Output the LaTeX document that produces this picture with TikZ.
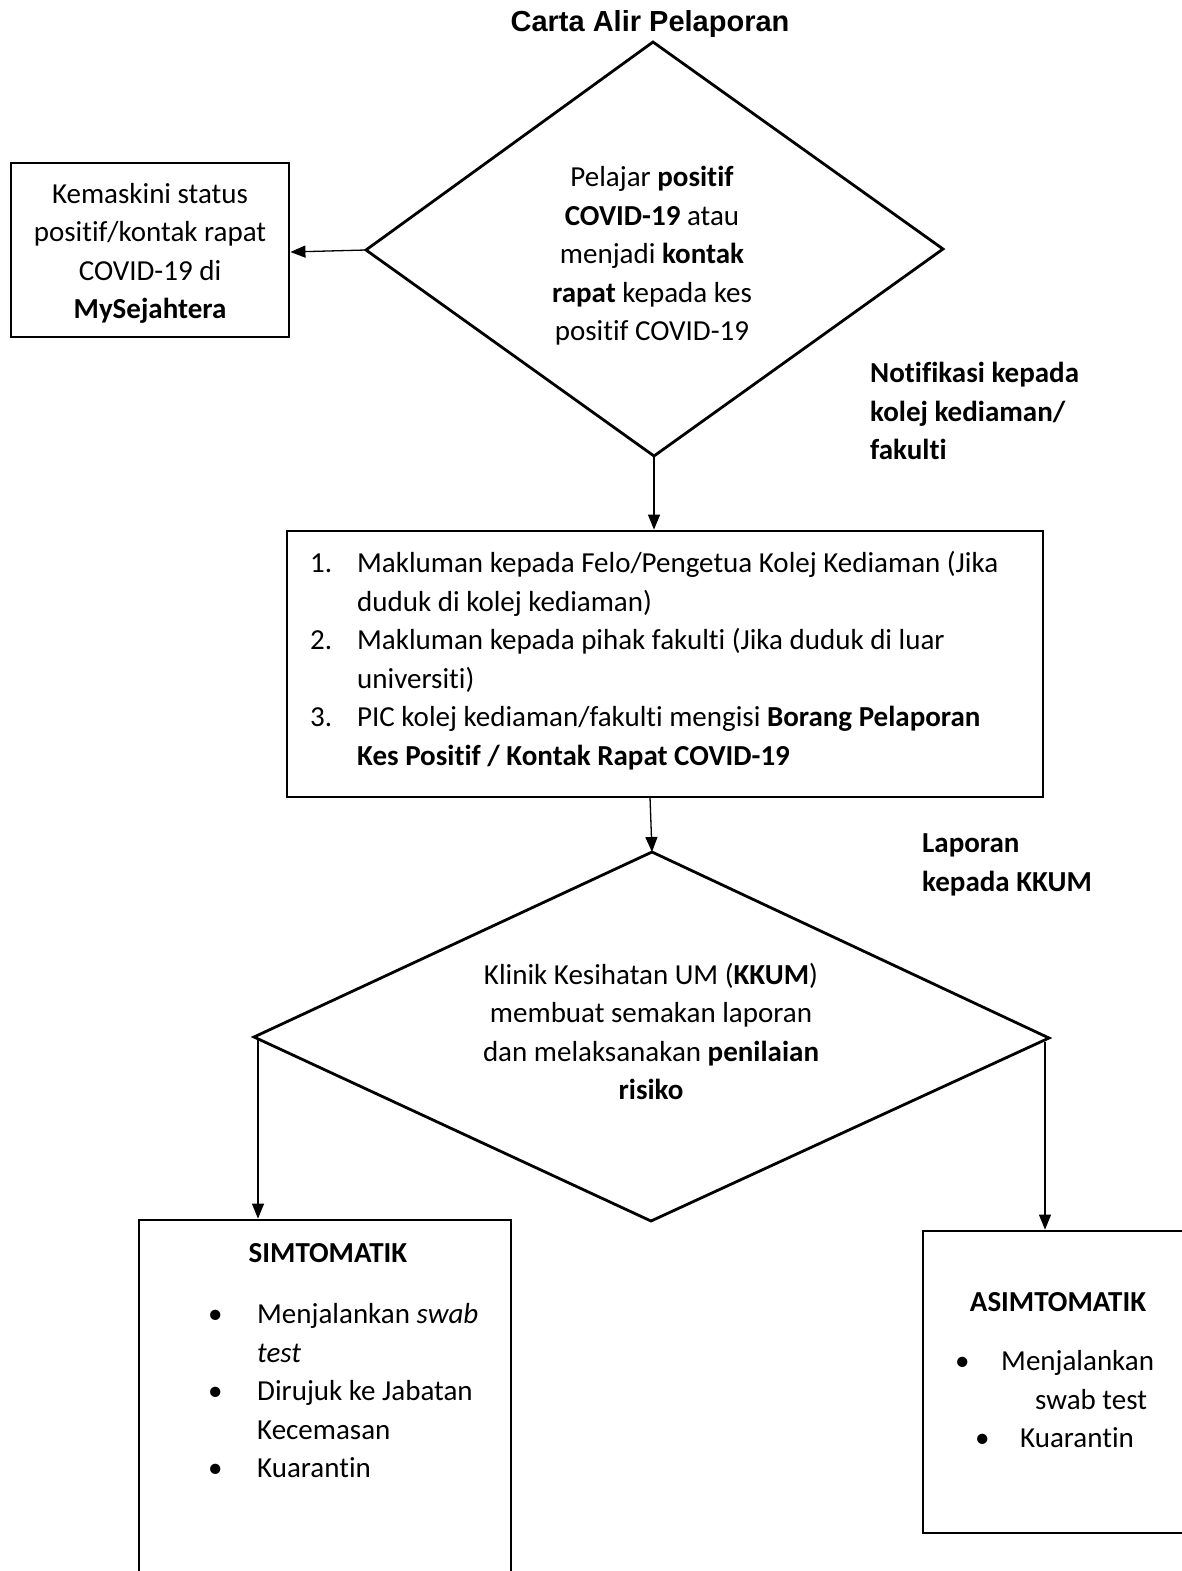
\documentclass[tikz,border=0pt]{standalone}
\usepackage{fontspec}
\setmainfont{Carlito}[Ligatures={NoCommon}]
\newfontfamily\titlefont{Liberation Sans}
\usetikzlibrary{arrows.meta}
\begin{document}
\begin{tikzpicture}[x=1pt,y=-1pt,
  shapeline/.style={line width=2.8pt, line join=miter},
  boxnode/.style={draw, shapeline, rectangle, inner sep=0pt},
  txt/.style={inner sep=0pt, font=\fontsize{29}{38.5}\selectfont},
  conn/.style={line width=1.3pt, -{Triangle[length=15pt,width=12pt]}}]
\useasboundingbox (0,0) rectangle (1182,1571);
\fill[white] (0,0) rectangle (1182,1571);

% title
\node[inner sep=0pt, anchor=base, font=\titlefont\bfseries\fontsize{29}{34}\selectfont] (title) at (650,32) {Carta Alir Pelaporan};

% diamond 1
\coordinate (d1t) at (653,42);
\coordinate (d1r) at (943,249);
\coordinate (d1b) at (654,456);
\coordinate (d1l) at (366,250);
\draw[shapeline] (d1t) -- (d1r) -- (d1b) -- (d1l) -- cycle;
\node[txt, align=center] (d1text) at (652,255.8) {\strut Pelajar \textbf{positif}\\ \strut\textbf{COVID-19} atau\\ \strut menjadi \textbf{kontak}\\ \strut\textbf{rapat} kepada kes\\ \strut positif COVID-19};

% left box
\node[boxnode, minimum width=278pt, minimum height=174pt] (lbox) at (150,250) {};
\node[txt, align=center] (ltext) at (150,253.3) {\strut Kemaskini status\\ \strut positif/kontak rapat\\ \strut COVID-19 di\\ \strut\textbf{MySejahtera}};

% notification label
\node[txt, align=left, anchor=west] (notif) at (870,413.3) {\strut\textbf{Notifikasi kepada}\\ \strut\textbf{kolej kediaman/}\\ \strut\textbf{fakulti}};

% box 2
\node[boxnode, minimum width=756pt, minimum height=266pt] (box2) at (665,664) {};
\node[txt, align=left, anchor=west] (box2text) at (310,661.3) {%
\strut\makebox[47pt][l]{1.}Makluman kepada Felo/Pengetua Kolej Kediaman (Jika\\
\strut\hspace*{47pt}duduk di kolej kediaman)\\
\strut\makebox[47pt][l]{2.}Makluman kepada pihak fakulti (Jika duduk di luar\\
\strut\hspace*{47pt}universiti)\\
\strut\makebox[47pt][l]{3.}PIC kolej kediaman/fakulti mengisi \textbf{Borang Pelaporan}\\
\strut\hspace*{47pt}\textbf{Kes Positif / Kontak Rapat COVID-19}};

% laporan label
\node[txt, align=left, anchor=west] (lapor) at (922,864.3) {\strut\textbf{Laporan}\\ \strut\textbf{kepada KKUM}};

% diamond 2
\coordinate (d2t) at (652,852);
\coordinate (d2r) at (1049,1038);
\coordinate (d2b) at (651,1221);
\coordinate (d2l) at (254,1037);
\draw[shapeline] (d2t) -- (d2r) -- (d2b) -- (d2l) -- cycle;
\node[txt, align=center] (d2text) at (651,1034.3) {\strut Klinik Kesihatan UM (\textbf{KKUM})\\ \strut membuat semakan laporan\\ \strut dan melaksanakan \textbf{penilaian}\\ \strut\textbf{risiko}};

% SIMTOMATIK box
\node[boxnode, minimum width=372pt, minimum height=380pt] (sim) at (325,1410) {};
\node[txt] (simhead) at (328,1254.3) {\strut\textbf{SIMTOMATIK}};
\node[txt, align=left, anchor=west] (simlist) at (208,1392.8) {%
\strut\makebox[49pt][l]{\textbullet}Menjalankan \textit{swab}\\
\strut\hspace*{49pt}\textit{test}\\
\strut\makebox[49pt][l]{\textbullet}Dirujuk ke Jabatan\\
\strut\hspace*{49pt}Kecemasan\\
\strut\makebox[49pt][l]{\textbullet}Kuarantin};

% ASIMTOMATIK box
\node[boxnode, minimum width=277pt, minimum height=302pt] (asim) at (1061.5,1382) {};
\node[txt] (asimhead) at (1058,1303.3) {\strut\textbf{ASIMTOMATIK}};
\node[txt, align=left, anchor=west] (asimlist) at (955,1401.3) {%
\strut\makebox[46pt][l]{\textbullet}Menjalankan\\
\strut\hspace*{80pt}swab test\\
\strut\hspace*{20pt}\makebox[45pt][l]{\textbullet}Kuarantin};

% connectors
\coordinate (a1e) at (lbox.east |- 0,252);
\draw[conn] (d1l) -- (a1e);
\draw[conn] (d1b) -- (d1b |- box2.north);
\coordinate (b2out) at (650,797);
\draw[conn] (b2out) -- (d2t);
\coordinate (d2ls) at (258,1038);
\draw[conn] (d2ls) -- (d2ls |- sim.north);
\coordinate (d2rs) at (1045,1042);
\draw[conn] (d2rs) -- (d2rs |- asim.north);
\end{tikzpicture}
\end{document}
